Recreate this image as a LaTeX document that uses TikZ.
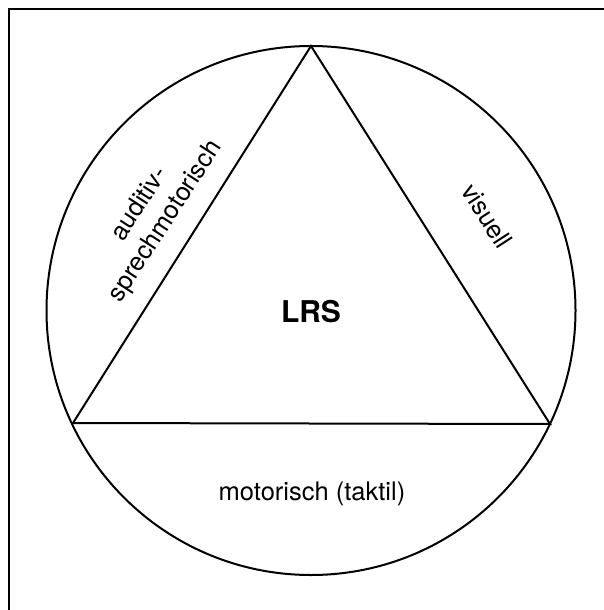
\documentclass[tikz,border=0pt]{standalone}
\usepackage{fontspec}
\setmainfont{TeX Gyre Heros}
\begin{document}
\begin{tikzpicture}[x=1pt,y=-1pt,
  shape line/.style={line width=2pt, line join=miter},
  frame line/.style={line width=2.4pt},
  label text/.style={font=\fontsize{25.5}{31}\selectfont, align=center, inner sep=0pt},
  title text/.style={font=\fontsize{30}{36}\selectfont\bfseries, inner sep=0pt}]
\useasboundingbox (0,0) rectangle (603,610);
% frame (left and top edges)
\coordinate (fbl) at (9,611);
\coordinate (ftl) at (9,9);
\coordinate (ftr) at (604,9);
\draw[frame line] (fbl) -- (ftl) -- (ftr);
% circle and triangle
\coordinate (c) at (311,310.5);
\coordinate (top) at (311,46);
\coordinate (left) at (73,423);
\coordinate (right) at (550,424);
\draw[shape line] (c) circle (264.5);
\draw[shape line] (top) -- (left) -- (right) -- cycle;
% labels
\node[title text] (lrs) at (311,312) {LRS};
\node[label text] (mot) at (312,494) {motorisch (taktil)};
\node[label text, rotate=57] (aud) at (153,213) {auditiv-\\sprechmotorisch};
\node[label text, rotate=-57] (vis) at (487,216) {visuell};
\end{tikzpicture}
\end{document}
